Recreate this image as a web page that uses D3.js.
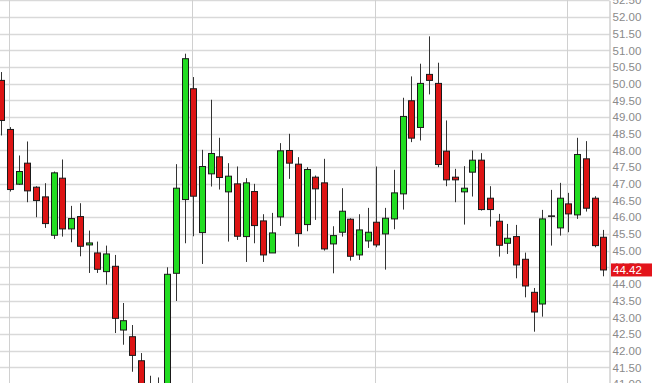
<!DOCTYPE html>
<html>
<head>
<meta charset="utf-8">
<script src="https://cdn.jsdelivr.net/npm/d3@7"></script>
<style>
  body { margin: 0; background: #fff; }
  svg { display: block; }
  .tick text { font-family: "Liberation Sans", Arial, sans-serif; }
</style>
</head>
<body>
<div id="chart"></div>
<script>
// daily OHLC, oldest first
const opens  = [50.10, 48.63, 46.99, 47.62, 46.90, 46.61, 45.46, 47.17, 45.65, 46.02,
                45.17, 44.93, 44.37, 44.53, 42.62, 42.42, 41.70, 40.90, 40.45, 40.70,
                44.32, 46.53, 49.85, 45.54, 47.30, 47.81, 46.76, 47.00, 45.42, 46.77,
                45.89, 44.93, 46.01, 48.00, 47.59, 45.78, 47.20, 47.03, 45.20, 45.55,
                45.94, 44.87, 45.29, 45.85, 45.50, 45.95, 46.70, 49.49, 48.69, 50.28,
                50.01, 47.98, 47.20, 46.76, 47.35, 47.71, 46.57, 45.88, 45.22, 45.42,
                44.74, 43.75, 43.40, 46.04, 45.68, 46.40, 46.07, 47.75, 46.57, 45.40];
const highs  = [50.35, 48.70, 47.85, 48.27, 46.93, 47.02, 47.37, 47.73, 46.34, 46.42,
                45.60, 45.27, 45.15, 44.87, 43.43, 42.77, 41.93, 41.25, 41.20, 44.50,
                47.59, 50.90, 50.20, 48.02, 49.52, 48.38, 47.62, 47.52, 47.17, 47.00,
                46.09, 46.13, 48.22, 48.50, 47.80, 47.50, 47.25, 47.75, 45.73, 46.87,
                45.97, 46.09, 46.28, 47.52, 46.28, 47.42, 49.58, 50.22, 50.60, 51.42,
                50.63, 48.90, 47.45, 47.53, 48.00, 47.92, 46.93, 46.10, 45.80, 45.77,
                44.94, 43.88, 46.22, 46.82, 47.03, 46.73, 48.38, 48.28, 46.63, 45.62];
const lows   = [48.45, 46.77, 46.97, 46.45, 46.00, 45.68, 45.35, 45.42, 45.25, 44.83,
                44.33, 44.33, 43.98, 42.53, 42.18, 41.37, 40.75, 40.40, 40.30, 40.50,
                43.49, 45.22, 45.43, 44.60, 46.92, 46.83, 45.27, 45.32, 44.66, 45.22,
                44.66, 44.93, 45.74, 47.15, 45.12, 45.58, 45.92, 45.00, 44.32, 45.42,
                44.70, 44.72, 45.08, 45.10, 44.43, 45.64, 46.23, 48.25, 48.30, 49.68,
                47.50, 46.93, 46.45, 45.78, 46.62, 46.20, 45.72, 44.82, 44.90, 44.17,
                43.60, 42.57, 43.02, 45.15, 45.45, 45.55, 45.95, 46.17, 45.10, 44.23];
const closes = [48.90, 46.83, 47.37, 46.79, 46.50, 45.81, 47.33, 45.65, 45.96, 45.13,
                45.23, 44.44, 44.90, 42.97, 42.90, 41.86, 40.90, 40.55, 40.75, 44.29,
                46.87, 50.75, 46.63, 47.52, 47.91, 47.19, 47.23, 45.43, 47.03, 45.75,
                44.87, 45.53, 47.99, 47.62, 45.51, 47.43, 46.85, 45.05, 45.45, 46.18,
                44.83, 45.62, 45.55, 45.17, 45.97, 46.73, 49.02, 48.37, 50.01, 50.10,
                47.58, 47.12, 47.12, 46.87, 47.71, 46.23, 46.23, 45.16, 45.37, 44.57,
                43.94, 43.16, 45.95, 46.04, 46.57, 46.10, 47.88, 46.27, 45.15, 44.42];

// candles where a new month starts (vertical grid)
const monthStarts = [1, 22, 43, 65];

const priceTicks = [41.00, 41.50, 42.00, 42.50, 43.00, 43.50, 44.00, 44.50, 45.00, 45.50,
                    46.00, 46.50, 47.00, 47.50, 48.00, 48.50, 49.00, 49.50, 50.00, 50.50,
                    51.00, 51.50, 52.00, 52.50];

const W = 660, H = 383;
const plotRight = 609.5;

const data = opens.map((o, i) => ({ i: i, o: o, h: highs[i], l: lows[i], c: closes[i] }));

const svg = d3.select("#chart").append("svg")
    .attr("width", W)
    .attr("height", H);

const x = d3.scaleLinear().domain([0, data.length - 1]).range([1.3, 603.3]);
const y = d3.scaleLinear().domain([41, 52.5]).range([384.1, 0.3]);

// horizontal grid
svg.append("g")
    .selectAll("line")
    .data(priceTicks)
    .enter().append("line")
    .attr("x1", 0)
    .attr("x2", plotRight)
    .attr("y1", d => Math.round(y(d)) + 0.5)
    .attr("y2", d => Math.round(y(d)) + 0.5)
    .attr("stroke", "#d9d9d9")
    .attr("stroke-width", 1.4);

// vertical grid
svg.append("g")
    .selectAll("line")
    .data(monthStarts)
    .enter().append("line")
    .attr("x1", d => Math.round(x(d)) - 0.5)
    .attr("x2", d => Math.round(x(d)) - 0.5)
    .attr("y1", 0)
    .attr("y2", H)
    .attr("stroke", "#d0d0d0")
    .attr("stroke-width", 1);

// price axis on the right
const axis = svg.append("g")
    .attr("transform", "translate(" + plotRight + ",0)")
    .call(d3.axisRight(y).tickValues(priceTicks).tickFormat(d3.format(".2f")).tickSize(0).tickPadding(3));
axis.select(".domain").attr("stroke", "#b8b8b8");
axis.selectAll("text")
    .attr("fill", "#8a8a8a")
    .style("font-size", "11.5px");

// candles
const candle = svg.append("g")
    .selectAll("g")
    .data(data)
    .enter().append("g");

candle.append("line")
    .attr("x1", d => Math.round(x(d.i)) + 0.5)
    .attr("x2", d => Math.round(x(d.i)) + 0.5)
    .attr("y1", d => y(d.h))
    .attr("y2", d => y(d.l))
    .attr("stroke", "#333")
    .attr("stroke-width", 1);

candle.append("rect")
    .attr("x", d => Math.round(x(d.i)) - 2.5)
    .attr("width", 6)
    .attr("y", d => y(Math.max(d.o, d.c)))
    .attr("height", d => Math.max(0.5, Math.abs(y(d.o) - y(d.c))))
    .attr("fill", d => d.c > d.o ? "#22dd22" : (d.c < d.o ? "#dd1414" : "#222"))
    .attr("stroke", "#1a1a1a")
    .attr("stroke-width", 1);

// last price marker
const last = closes[closes.length - 1];
svg.append("rect")
    .attr("x", 611)
    .attr("y", y(last) - 6.5)
    .attr("width", 41)
    .attr("height", 13)
    .attr("fill", "#e3141b");
svg.append("text")
    .attr("x", 613)
    .attr("y", y(last))
    .attr("dy", "0.35em")
    .attr("fill", "#fff")
    .style("font-family", "'Liberation Sans', Arial, sans-serif")
    .style("font-size", "11.5px")
    .text(d3.format(".2f")(last));
</script>
</body>
</html>
